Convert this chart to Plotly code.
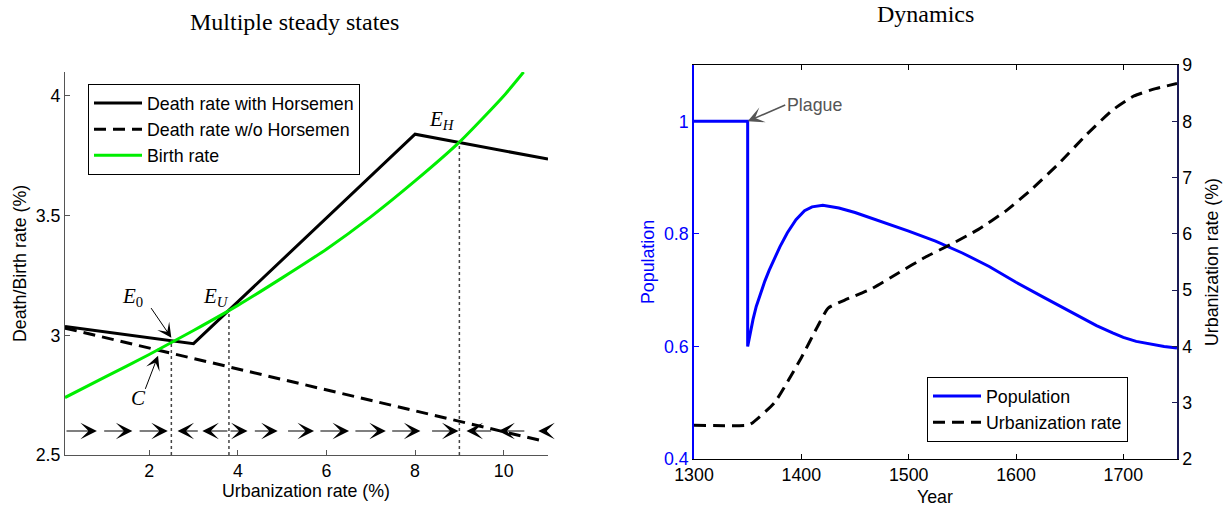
import plotly.graph_objects as go

# ---------------- Left panel: multiple steady states ----------------
urban_with = [0.1, 3.0, 8.0, 11.0]                 # death rate with Horsemen (kinks)
death_with = [3.037, 2.965, 3.84, 3.736]
urban_without = [0.1, 10.85]                      # death rate without Horsemen
death_without = [3.03, 2.56]
urban_birth = [0.1, 1, 2, 3, 4, 5, 6, 7, 8, 9, 10, 10.45]
birth_rate = [2.74, 2.825, 2.92, 3.02, 3.125, 3.24, 3.36, 3.495, 3.645, 3.807, 4.0, 4.1]

steady_x = [2.5, 3.8, 9.0]                        # E0, EU, EH
steady_y = [2.98, 3.105, 3.807]

phase_y = 2.6
arrow_tail = [0.1, 0.95, 1.75, 3.13, 3.8, 3.8, 4.35, 5.1, 5.83, 6.62, 7.45, 8.35, 9.75, 10.5, 11.0]
arrow_head = [0.82, 1.62, 2.42, 2.64, 3.2, 4.22, 4.9, 5.72, 6.51, 7.34, 8.12, 8.98, 9.16, 9.88, 10.78]

# ---------------- Right panel: dynamics ----------------
year_pop = [1300, 1350, 1350, 1352, 1355, 1358, 1362, 1366, 1370, 1375, 1380, 1387, 1395,
            1403, 1410, 1420, 1435, 1450, 1475, 1500, 1525, 1550, 1575, 1600, 1625, 1650,
            1675, 1690, 1700, 1712, 1725, 1738, 1750]
population = [1.0, 1.0, 0.6, 0.622, 0.648, 0.671, 0.695, 0.716, 0.735, 0.757, 0.777, 0.802, 0.825,
              0.841, 0.848, 0.851, 0.846, 0.838, 0.822, 0.805, 0.787, 0.766, 0.742, 0.714, 0.688,
              0.662, 0.637, 0.624, 0.616, 0.609, 0.604, 0.600, 0.597]
year_urb = [1300, 1350, 1355, 1375, 1400, 1415, 1425, 1440, 1465, 1490, 1515, 1540, 1565,
            1590, 1615, 1640, 1665, 1690, 1710, 1730, 1750]
urbanization = [2.6, 2.6, 2.65, 3.0, 3.8, 4.35, 4.68, 4.82, 5.02, 5.3, 5.58, 5.82, 6.08,
                6.4, 6.8, 7.25, 7.75, 8.2, 8.45, 8.58, 8.67]

W, H = 1227, 512
SANS = "Liberation Sans, Arial, sans-serif"
SERIF = "Liberation Serif, Times New Roman, serif"
DASH = "12px,7px"
FS = 17.8

fig = go.Figure()

fig.add_trace(go.Scatter(x=urban_with, y=death_with, mode="lines", name="Death rate with Horsemen",
                         line=dict(color="black", width=3), legend="legend"))
fig.add_trace(go.Scatter(x=urban_without, y=death_without, mode="lines", name="Death rate w/o Horsemen",
                         line=dict(color="black", width=3, dash=DASH), legend="legend"))
fig.add_trace(go.Scatter(x=urban_birth, y=birth_rate, mode="lines", name="Birth rate",
                         line=dict(color="#00ee00", width=3, shape="spline", smoothing=0.6),
                         legend="legend"))

for sx, sy in zip(steady_x, steady_y):
    fig.add_trace(go.Scatter(x=[sx, sx], y=[2.5, sy], mode="lines", showlegend=False,
                             line=dict(color="#444444", width=1.5, dash="dot"), hoverinfo="skip"))

fig.add_trace(go.Scatter(x=year_pop, y=population, mode="lines", name="Population",
                         line=dict(color="#0000ff", width=3), xaxis="x2", yaxis="y2",
                         legend="legend2"))
fig.add_trace(go.Scatter(x=year_urb, y=urbanization, mode="lines", name="Urbanization rate",
                         line=dict(color="black", width=3, dash=DASH, shape="spline", smoothing=0.5),
                         xaxis="x2", yaxis="y3", legend="legend2"))

annotations = []

# phase-line arrows
for t, h in zip(arrow_tail, arrow_head):
    annotations.append(dict(x=h, y=phase_y, ax=t, ay=phase_y, xref="x", yref="y",
                            axref="x", ayref="y", text="", showarrow=True,
                            arrowhead=3, arrowsize=2.5, arrowwidth=1.1, arrowcolor="black"))

# steady-state labels
def math_label(txt, x, y):
    annotations.append(dict(x=x, y=y, xref="x", yref="y", text=txt, showarrow=False,
                            xanchor="center", yanchor="middle",
                            font=dict(family=SERIF, size=21, color="black")))

math_label("<i>E</i><sub>0</sub>", 1.62, 3.16)
math_label("<i>E<sub>U</sub></i>", 3.5, 3.16)
math_label("<i>E<sub>H</sub></i>", 8.6, 3.9)
math_label("<i>C</i>", 1.75, 2.74)

annotations.append(dict(x=2.5, y=2.99, ax=2.02, ay=3.12, xref="x", yref="y", axref="x", ayref="y",
                        text="", showarrow=True, arrowhead=3, arrowsize=2.4, arrowwidth=1,
                        arrowcolor="black"))
annotations.append(dict(x=2.2, y=2.915, ax=1.9, ay=2.77, xref="x", yref="y", axref="x", ayref="y",
                        text="", showarrow=True, arrowhead=3, arrowsize=2.4, arrowwidth=1,
                        arrowcolor="black"))

# plague marker
annotations.append(dict(x=1350, y=1.0, ax=1385, ay=1.029, xref="x2", yref="y2", axref="x2", ayref="y2",
                        text="Plague", xanchor="left", yanchor="middle", showarrow=True,
                        arrowhead=3, arrowsize=1.8, arrowwidth=1.5, arrowcolor="#555555",
                        font=dict(family=SANS, size=FS, color="#555555")))

# panel titles and axis titles
def paper_text(txt, x, y, size, family, angle=0, color="black"):
    annotations.append(dict(x=x / W, y=1 - y / H, xref="paper", yref="paper", text=txt,
                            xanchor="center", yanchor="middle", textangle=angle,
                            showarrow=False, font=dict(family=family, size=size, color=color)))

paper_text("Multiple steady states", 294, 22, 24, SERIF)
paper_text("Dynamics", 925, 14, 24, SERIF)

paper_text("Death/Birth rate (%)", 20, 264, FS, SANS, -90)
paper_text("Urbanization rate (%)", 306, 491, FS, SANS)
paper_text("Population", 648, 262, FS, SANS, -90, "#0000ff")
paper_text("Urbanization rate (%)", 1212, 262, FS, SANS, -90)
paper_text("Year", 935, 497, FS, SANS)

tickfont = dict(family=SANS, size=FS, color="black")
common = dict(showgrid=False, zeroline=False, automargin=False, ticks="inside", ticklen=5,
              showline=True)
legend_common = dict(xanchor="left", yanchor="top", bgcolor="white", bordercolor="black",
                     borderwidth=1, font=dict(family=SANS, size=FS, color="black"),
                     tracegroupgap=0, itemwidth=48)

fig.update_layout(
    width=W, height=H,
    margin=dict(l=0, r=0, t=0, b=0, autoexpand=False),
    paper_bgcolor="white", plot_bgcolor="white",
    annotations=annotations,
    xaxis=dict(domain=[65 / W, 548 / W], range=[0.1, 11], tickvals=[2, 4, 6, 8, 10],
               tickcolor="#555555", linecolor="#555555", linewidth=1,
               tickfont=tickfont, anchor="y", **common),
    yaxis=dict(domain=[1 - 455 / H, 1 - 72 / H], range=[2.5, 4.1], tickvals=[2.5, 3, 3.5, 4],
               ticktext=["2.5", "3", "3.5", "4"],
               tickcolor="#555555", linecolor="#555555", linewidth=1,
               tickfont=tickfont, anchor="x", **common),
    xaxis2=dict(domain=[694 / W, 1177 / W], range=[1300, 1750],
                tickvals=[1300, 1400, 1500, 1600, 1700],
                tickcolor="black", linecolor="black", linewidth=1, mirror="ticks",
                tickfont=tickfont, anchor="y2", **common),
    yaxis2=dict(domain=[1 - 459 / H, 1 - 65 / H], range=[0.4, 1.1], tickvals=[0.4, 0.6, 0.8, 1.0],
                ticktext=["0.4", "0.6", "0.8", "1"],
                tickcolor="#0000ff", linecolor="#0000ff", linewidth=1.5,
                tickfont=dict(family=SANS, size=FS, color="#0000ff"), anchor="x2", **common),
    yaxis3=dict(overlaying="y2", side="right", anchor="x2", range=[2, 9],
                tickvals=[2, 3, 4, 5, 6, 7, 8, 9],
                tickcolor="#1a1a55", linecolor="#1a1a55", linewidth=1.5,
                tickfont=tickfont, **common),
    legend=dict(x=88 / W, y=1 - 84 / H, **legend_common),
    legend2=dict(x=927 / W, y=1 - 377 / H, **legend_common),
)

fig.write_html("out.html")
